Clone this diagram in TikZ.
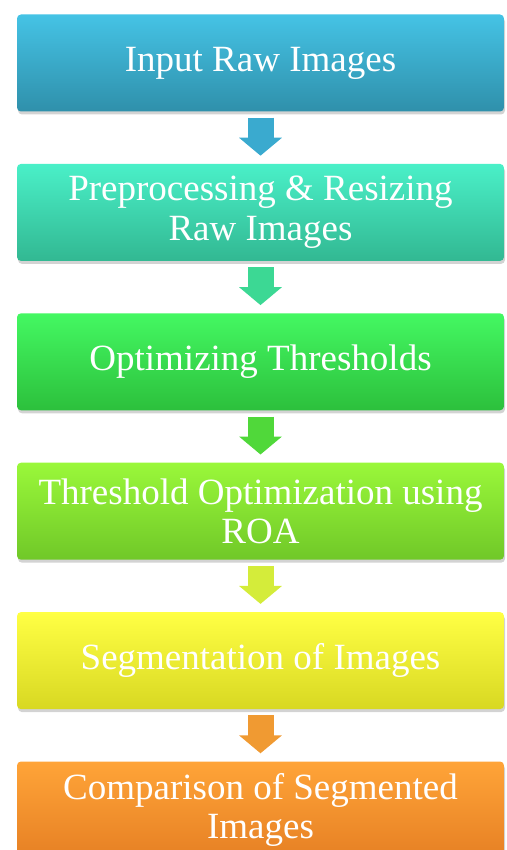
\documentclass[tikz,border=0pt]{standalone}
\usepackage{fontspec}
\setmainfont{Liberation Serif}
\usetikzlibrary{positioning,shadows,arrows.meta}

\definecolor{inTop}{HTML}{45C3E5}
\definecolor{inBot}{HTML}{2F90AB}
\definecolor{preTop}{HTML}{4AF0C8}
\definecolor{preBot}{HTML}{32B892}
\definecolor{optTop}{HTML}{44F862}
\definecolor{optBot}{HTML}{2CC03C}
\definecolor{roaTop}{HTML}{9AF83A}
\definecolor{roaBot}{HTML}{70C828}
\definecolor{segTop}{HTML}{FFFF44}
\definecolor{segBot}{HTML}{D8D822}
\definecolor{cmpTop}{HTML}{FFA438}
\definecolor{cmpBot}{HTML}{E68024}
\definecolor{arrA}{HTML}{3AAACF}
\definecolor{arrB}{HTML}{3CD894}
\definecolor{arrC}{HTML}{50D83A}
\definecolor{arrD}{HTML}{D4EC3A}
\definecolor{arrE}{HTML}{F09A32}

\begin{document}
\begin{tikzpicture}[x=1pt,y=1pt]
\tikzstyle{stage}=[rectangle, rounded corners=4pt, minimum width=487pt, minimum height=97pt, align=center, text=white, font=\fontsize{37}{39.5}\selectfont, node distance=52pt, drop shadow={shadow xshift=1pt, shadow yshift=-3pt, opacity=0.35}]
\tikzstyle{connect}=[-{Triangle[width=42pt,length=18pt]}, line width=26pt]
  \useasboundingbox (0,0) rectangle (506,-850);
  \clip (0,0) rectangle (506,-850);
  \node[stage, top color=inTop, bottom color=inBot] (in) at (260.5,-63) {Input Raw Images};
  \node[stage, top color=preTop, bottom color=preBot] (pre) [below=of in] {Preprocessing \& Resizing\\Raw Images};
  \node[stage, top color=optTop, bottom color=optBot] (opt) [below=of pre] {Optimizing Thresholds};
  \node[stage, top color=roaTop, bottom color=roaBot] (roa) [below=of opt] {Threshold Optimization using\\ROA};
  \node[stage, top color=segTop, bottom color=segBot] (seg) [below=of roa] {Segmentation of Images};
  \node[stage, top color=cmpTop, bottom color=cmpBot] (cmp) [below=of seg] {Comparison of Segmented\\Images};
  \path ([yshift=-6pt]in.south) edge [connect, draw=arrA] ([yshift=8pt]pre.north)
        ([yshift=-6pt]pre.south) edge [connect, draw=arrB] ([yshift=8pt]opt.north)
        ([yshift=-6pt]opt.south) edge [connect, draw=arrC] ([yshift=8pt]roa.north)
        ([yshift=-6pt]roa.south) edge [connect, draw=arrD] ([yshift=8pt]seg.north)
        ([yshift=-6pt]seg.south) edge [connect, draw=arrE] ([yshift=8pt]cmp.north);
\end{tikzpicture}
\end{document}
